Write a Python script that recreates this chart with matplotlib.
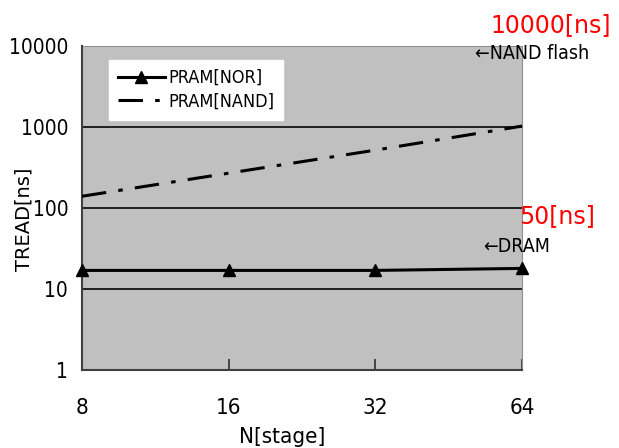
# -*- coding: utf-8 -*-
# TREAD vs number of stages (log-log)
import numpy as np
import matplotlib.pyplot as plt

# Data
stages = [8, 16, 32, 64]
pram_nor = [17, 17, 17, 18]
pram_nand = [140, 270, 520, 1030]
y_ticks = [1, 10, 100, 1000, 10000]
y_tick_labels = ['1', '10', '100', '1000', '10000']

plt.rcParams['font.family'] = ['DejaVu Sans']
plt.rcParams['font.stretch'] = 'condensed'

fig = plt.figure(figsize=(6.19, 4.48), dpi=100)
ax = fig.add_axes([0.1325, 0.174, 0.711, 0.723])
ax.set_facecolor('#c0c0c0')

ax.set_xscale('log', base=2)
ax.set_yscale('log')
ax.set_xlim(8, 64)
ax.set_ylim(1, 10000)

# horizontal grid lines at decades
for v in [10, 100, 1000]:
    ax.axhline(v, color='#202020', lw=1.4, zorder=1)
ax.axhline(10000, color='#808080', lw=1.2, zorder=1)

ax.plot(stages, pram_nor, color='black', lw=2.2, marker='^', ms=8,
        clip_on=False, zorder=3, label='PRAM[NOR]')
ax.plot(stages, pram_nand, color='black', lw=2.2, ls=(0, (8, 4, 1.5, 4)),
        clip_on=False, zorder=3, label='PRAM[NAND]')

ax.set_xticks(stages)
ax.set_xticklabels([str(s) for s in stages], fontsize=16)
ax.minorticks_off()
ax.set_yticks(y_ticks)
ax.set_yticklabels(y_tick_labels, fontsize=15)
ax.tick_params(axis='x', direction='in', length=8, width=1.2, pad=20,
               colors='#303030', labelcolor='black')
ax.tick_params(axis='y', length=0, pad=10)

for side in ['left', 'bottom']:
    ax.spines[side].set_color('#404040')
    ax.spines[side].set_linewidth(1.5)
ax.spines['right'].set_color('#909090')
ax.spines['top'].set_visible(False)

ax.set_xlabel('N[stage]', fontsize=16, labelpad=0)
ax.xaxis.set_label_coords(0.455, -0.175)
fig.text(0.039, 0.511, 'TREAD[ns]', fontsize=14, rotation=90,
         ha='center', va='center', stretch='normal')

leg = ax.legend(loc='upper left', bbox_to_anchor=(0.04, 0.985), fontsize=13,
                frameon=True, fancybox=False, framealpha=1, edgecolor='white',
                handlelength=2.6, handletextpad=0.2, borderpad=0.5,
                labelspacing=0.3)

# annotations
fig.text(0.792, 0.943, '10000[ns]', color='red', fontsize=17,
         va='center', stretch='normal')
fig.text(0.768, 0.881, '\u2190NAND flash', fontsize=14, va='center')
fig.text(0.838, 0.518, '50[ns]', color='red', fontsize=17,
         va='center', stretch='normal')
fig.text(0.780, 0.449, '\u2190DRAM', fontsize=14, va='center')

plt.savefig('out.png', dpi=100)
